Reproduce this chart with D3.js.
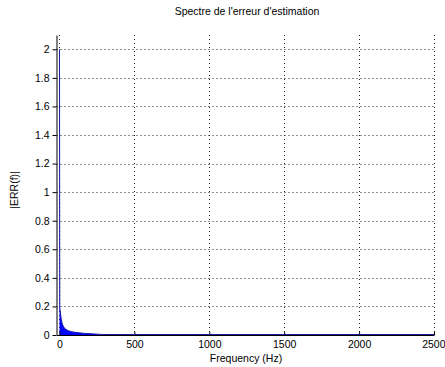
<!DOCTYPE html>
<html><head><meta charset="utf-8">
<script src="https://cdn.jsdelivr.net/npm/d3@7"></script>
<style>
body{margin:0;background:#fff;}
svg text{font-family:"Liberation Sans",Arial,sans-serif;fill:#000;}
</style></head>
<body><svg id="c" width="445" height="367"></svg>
<script>
const titleText = "Spectre de l'erreur d'estimation";
const xLabel = "Frequency (Hz)";
const yLabel = "|ERR(f)|";
const xTicks = [0, 500, 1000, 1500, 2000, 2500];
const yTicks = [0, 0.2, 0.4, 0.6, 0.8, 1, 1.2, 1.4, 1.6, 1.8, 2];
const freq = [0, 2, 5, 8, 12, 16, 20, 25, 30, 40, 50, 60, 75, 90, 110, 130, 160, 190, 220, 250, 280, 350, 500, 1000, 1500, 2000, 2500];
const mag  = [2.0, 0.19, 0.17, 0.14, 0.11, 0.09, 0.075, 0.062, 0.052, 0.042, 0.035, 0.03, 0.025, 0.021, 0.018, 0.015, 0.012, 0.01, 0.008, 0.006, 0.004, 0.003, 0.002, 0.002, 0.002, 0.002, 0.002];

const data = freq.map((f, i) => ({f, m: mag[i]}));
const svg = d3.select("#c");
const L = 56.5, R = 434, T = 35, B = 335;
const x = d3.scaleLinear().domain([-20, 2500]).range([L, R]);
const y = d3.scaleLinear().domain([0, 2.1]).range([B, T]);

// grid
const g = svg.append("g");
g.selectAll("line.gx").data(xTicks).join("line")
  .attr("x1", d => Math.round(x(d)) + 0.5).attr("x2", d => Math.round(x(d)) + 0.5)
  .attr("y1", T).attr("y2", B)
  .attr("stroke", "#222").attr("stroke-width", 1).attr("stroke-dasharray", "1,3");
g.selectAll("line.gy").data(yTicks.slice(1)).join("line")
  .attr("x1", L).attr("x2", R)
  .attr("y1", d => Math.round(y(d)) + 0.5).attr("y2", d => Math.round(y(d)) + 0.5)
  .attr("stroke", "#222").attr("stroke-width", 1).attr("stroke-dasharray", "1,3");

// data
const area = d3.area().x(d => x(d.f)).y0(y(0)).y1(d => y(d.m));
svg.append("path").datum(data).attr("d", area).attr("fill", "#0000ff");
const line = d3.line().x(d => x(d.f)).y(d => y(d.m));
svg.append("path").datum(data).attr("d", line).attr("fill", "none")
  .attr("stroke", "#1a1aa8").attr("stroke-width", 1);

// axes
const xAxis = d3.axisBottom(x).tickValues(xTicks).tickSizeInner(-3).tickSizeOuter(0).tickPadding(6).tickFormat(d3.format("d"));
const xg = svg.append("g").attr("transform", `translate(0,${B})`).call(xAxis);
const yAxis = d3.axisLeft(y).tickValues(yTicks).tickSizeInner(4).tickSizeOuter(0).tickPadding(3).tickFormat(d => d3.format("~g")(d));
const yg = svg.append("g").attr("transform", `translate(${L},0)`).call(yAxis);
[xg, yg].forEach(a => {
  a.selectAll("text").attr("font-size", 10.5).attr("font-family", "'Liberation Sans',Arial,sans-serif").attr("fill", "#000");
  a.select(".domain").attr("stroke", "#000");
  a.selectAll(".tick line").attr("stroke", "#000");
});
xg.selectAll(".tick text").filter(d => d === 2500).attr("text-anchor", "end").attr("dx", "1.05em");
// bottom data line over axis
svg.append("line").attr("x1", x(300)).attr("x2", x(2500)).attr("y1", B - 0.5).attr("y2", B - 0.5)
  .attr("stroke", "#1a1aa8").attr("stroke-width", 1);

svg.append("text").attr("x", 247).attr("y", 15).attr("text-anchor", "middle").attr("font-size", 10.5).text(titleText);
svg.append("text").attr("x", 246).attr("y", 362).attr("text-anchor", "middle").attr("font-size", 10.5).text(xLabel);
svg.append("text").attr("transform", "translate(18,190) rotate(-90)").attr("text-anchor", "middle").attr("font-size", 10.5).text(yLabel);
</script></body></html>
